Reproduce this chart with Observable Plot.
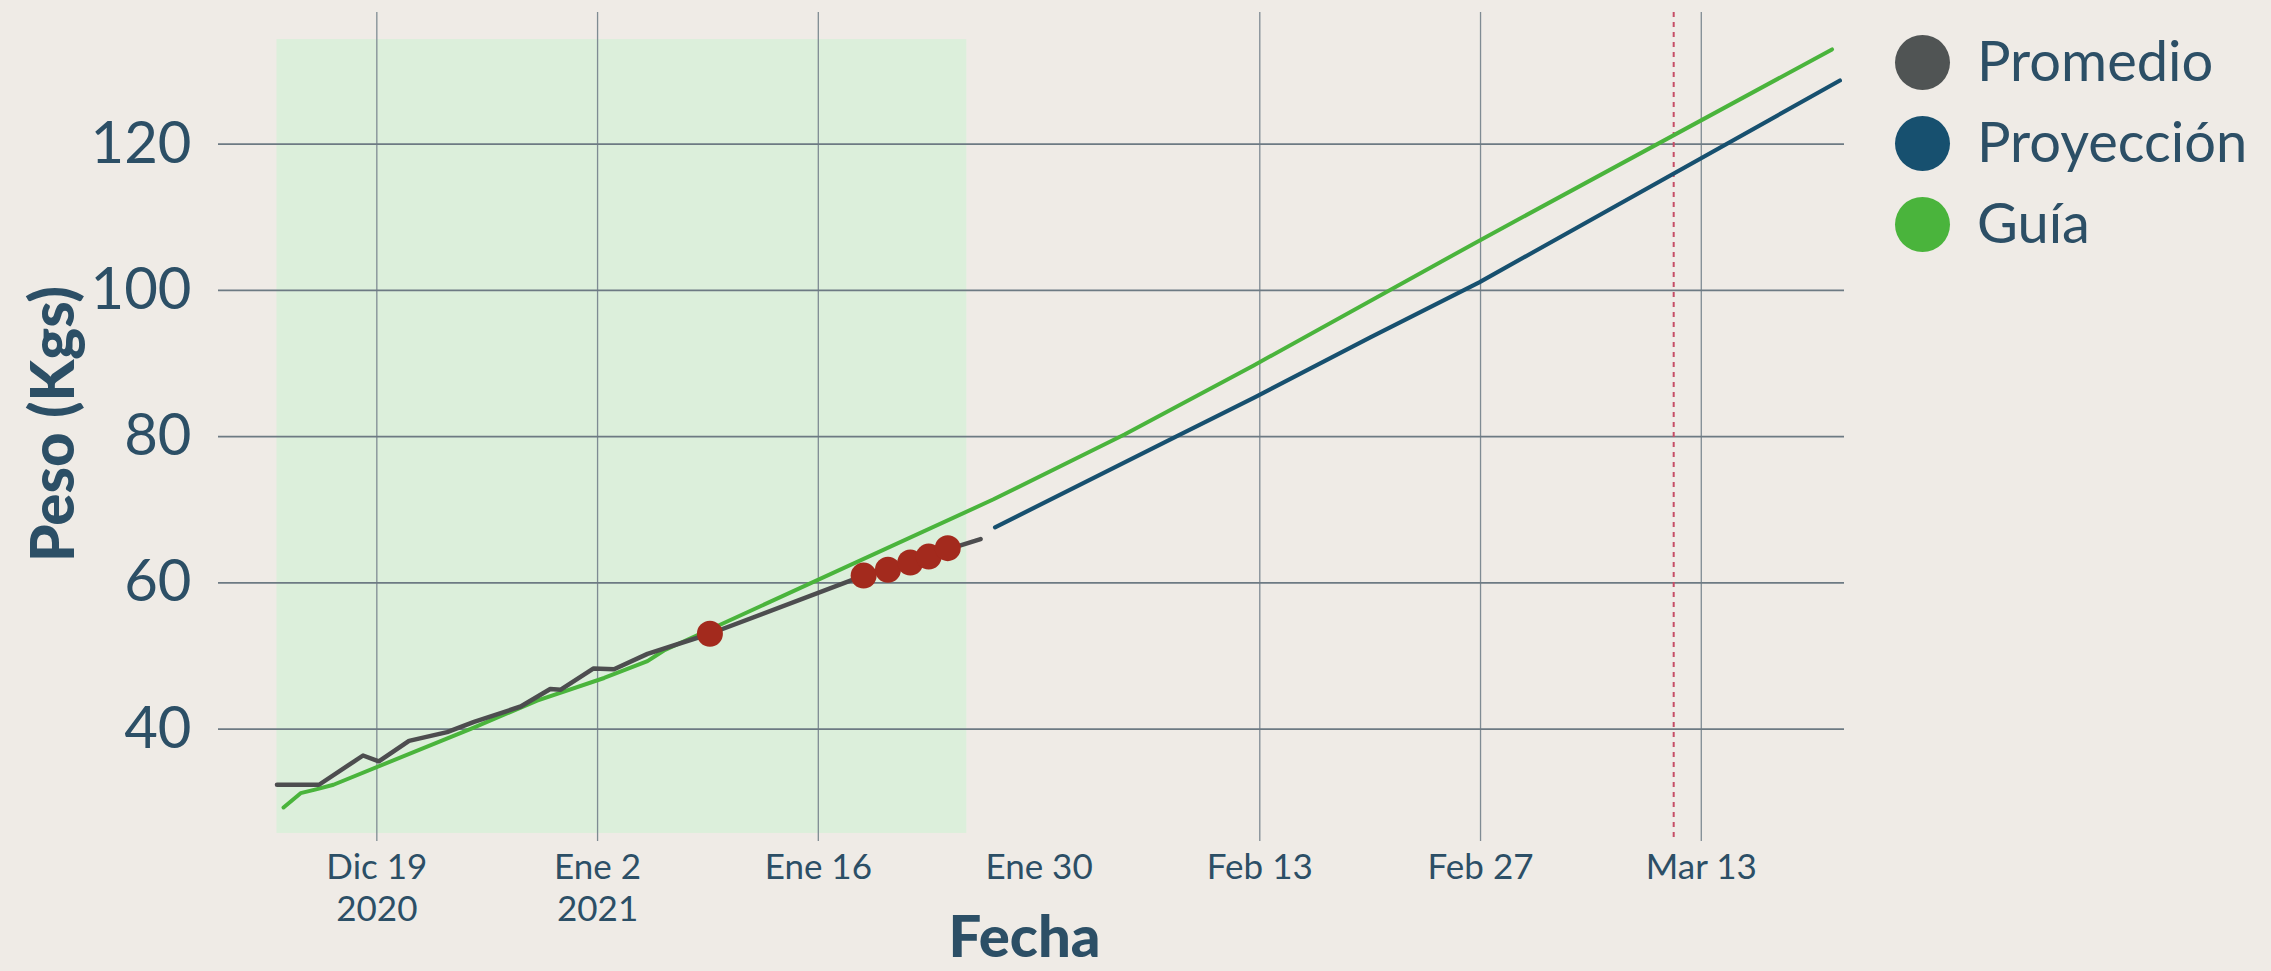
<!DOCTYPE html>
<html>
<head>
<meta charset="utf-8">
<script src="https://cdn.jsdelivr.net/npm/d3@7"></script>
<script src="https://cdn.jsdelivr.net/npm/@observablehq/plot@0.6"></script>
<style>
  html, body { margin: 0; padding: 0; background: #efebe6; }
  #wrap { position: relative; width: 2271px; height: 971px; overflow: hidden; }
  #legend { position: absolute; left: 1895px; top: 22px; font-family: Lato, "Noto Sans", sans-serif; color: #2c4f66; font-size: 56px; }
  .row { display: flex; align-items: center; height: 81px; }
  .sw { width: 55px; height: 55px; border-radius: 50%; margin-right: 27px; flex: none; }
  .lab { line-height: 1; position: relative; top: -3px; }
</style>
</head>
<body>
<div id="wrap"><div id="legend"></div></div>
<script>
// ---- Data ----
const promedioFechas = ["2020-12-12T16:00Z","2020-12-15T08:00Z","2020-12-18T03:00Z","2020-12-19T03:00Z","2020-12-21T01:00Z","2020-12-23T11:00Z","2020-12-25T04:00Z","2020-12-28T03:00Z","2020-12-30T00:00Z","2020-12-30T16:00Z","2021-01-01T18:00Z","2021-01-03T01:00Z","2021-01-05T04:00Z","2021-01-09T03:00Z","2021-01-18T21:00Z","2021-01-26T07:00Z"];
const promedioPeso   = [32.4, 32.4, 36.4, 35.6, 38.4, 39.6, 41.0, 43.1, 45.5, 45.4, 48.3, 48.2, 50.3, 53.05, 61.0, 66.0];

const proyeccionFechas = ["2021-01-27T05:00Z","2021-02-07T21:00Z","2021-02-12T17:00Z","2021-02-20T01:00Z","2021-02-26T22:00Z","2021-03-21T19:00Z"];
const proyeccionPeso   = [67.6, 80.2, 85.4, 93.6, 101.1, 128.7];

const guiaFechas = ["2020-12-13T02:00Z","2020-12-14T04:00Z","2020-12-15T05:00Z","2020-12-16T06:00Z","2020-12-24T23:00Z","2020-12-29T04:00Z","2021-01-02T10:00Z","2021-01-05T04:00Z","2021-01-06T05:00Z","2021-01-27T02:00Z","2021-02-04T10:00Z","2021-02-12T14:00Z","2021-02-26T22:00Z","2021-03-21T07:00Z"];
const guiaPeso   = [29.3, 31.25, 31.8, 32.4, 40.05, 43.9, 47.0, 49.3, 50.76, 71.4, 80.3, 89.7, 106.8, 132.95];

const pesajesFechas = ["2021-01-09T03:00Z","2021-01-18T21:00Z","2021-01-20T10:00Z","2021-01-21T20:00Z","2021-01-23T00:00Z","2021-01-24T05:00Z"];
const pesajesPeso   = [53.05, 61.0, 61.8, 62.8, 63.6, 64.75];

const periodoInicio = "2020-12-12T16:00Z";
const periodoFin    = "2021-01-25T10:00Z";
const periodoPesoMin = 25.74;
const periodoPesoMax = 134.3;

const fechaMeta = "2021-03-11T06:00Z";

const xTickFechas = ["2020-12-19","2021-01-02","2021-01-16","2021-01-30","2021-02-13","2021-02-27","2021-03-13"];
const xTickEtiquetas = ["Dic 19\n2020","Ene 2\n2021","Ene 16","Ene 30","Feb 13","Feb 27","Mar 13"];
const xGridFechas = ["2020-12-19","2021-01-02","2021-01-16","2021-02-13","2021-02-27","2021-03-13"];
const yTicks = [40, 60, 80, 100, 120];

const xDominio = ["2020-12-08T23:00Z", "2021-03-22T02:00Z"];
const yDominio = [24.64, 138];

const series = ["Promedio", "Proyección", "Guía"];
const colores = ["#505454", "#17506f", "#4ab43c"];

// ---- Build ----
const D = s => new Date(s);
const promedio = promedioFechas.map((f, i) => ({fecha: D(f), peso: promedioPeso[i]}));
const proyeccion = proyeccionFechas.map((f, i) => ({fecha: D(f), peso: proyeccionPeso[i]}));
const guia = guiaFechas.map((f, i) => ({fecha: D(f), peso: guiaPeso[i]}));
const pesajes = pesajesFechas.map((f, i) => ({fecha: D(f), peso: pesajesPeso[i]}));
const labelMap = new Map(xTickFechas.map((f, i) => [+D(f), xTickEtiquetas[i]]));
const textColor = "#2c4f66";

const chart = Plot.plot({
  width: 2271,
  height: 971,
  marginLeft: 218,
  marginRight: 427,
  marginTop: 12,
  marginBottom: 130,
  style: {background: "transparent", fontFamily: "Lato, 'Noto Sans', sans-serif", color: textColor, overflow: "visible"},
  x: {type: "utc", domain: xDominio.map(D)},
  y: {domain: yDominio},
  marks: [
    Plot.rect([{x1: D(periodoInicio), x2: D(periodoFin), y1: periodoPesoMin, y2: periodoPesoMax}],
      {x1: "x1", x2: "x2", y1: "y1", y2: "y2", fill: "#dcefdb"}),
    Plot.ruleX(xGridFechas.map(D), {stroke: "#7f8b93", strokeWidth: 1.3}),
    Plot.ruleY(yTicks, {stroke: "#6d7a83", strokeWidth: 1.6}),
    Plot.ruleX([D(fechaMeta)], {stroke: "#c64d66", strokeWidth: 2, strokeDasharray: "5,5"}),
    Plot.line(guia, {x: "fecha", y: "peso", stroke: colores[2], strokeWidth: 4, strokeLinecap: "round", strokeLinejoin: "round"}),
    Plot.line(promedio, {x: "fecha", y: "peso", stroke: "#4d4d4f", strokeWidth: 4.5, strokeLinecap: "round", strokeLinejoin: "round"}),
    Plot.line(proyeccion, {x: "fecha", y: "peso", stroke: colores[1], strokeWidth: 4.2, strokeLinecap: "round", strokeLinejoin: "round"}),
    Plot.dot(pesajes, {x: "fecha", y: "peso", r: 13, fill: "#a32a1d", stroke: "none"}),
    Plot.axisY(yTicks, {tickSize: 0, tickPadding: 27, fontSize: 58, label: null, fill: textColor}),
    Plot.axisX(xTickFechas.map(D), {tickSize: 0, tickPadding: 8, fontSize: 35, lineHeight: 1.2, label: null, fill: textColor,
      tickFormat: d => labelMap.get(+d)}),
    Plot.text(["Fecha"], {frameAnchor: "bottom", dx: -7, dy: 97, lineAnchor: "middle", fontSize: 58, fontWeight: 900, fill: textColor}),
    Plot.text(["Peso (Kgs)"], {frameAnchor: "left", dx: -164, dy: -3, rotate: -90, lineAnchor: "middle", textAnchor: "middle", fontSize: 60, fontWeight: 900, fill: textColor})
  ]
});
document.getElementById("wrap").prepend(chart);

const legend = document.getElementById("legend");
series.forEach((s, i) => {
  const row = document.createElement("div");
  row.className = "row";
  const sw = document.createElement("span");
  sw.className = "sw";
  sw.style.background = colores[i];
  const lab = document.createElement("span");
  lab.className = "lab";
  lab.textContent = s;
  row.append(sw, lab);
  legend.append(row);
});
</script>
</body>
</html>
